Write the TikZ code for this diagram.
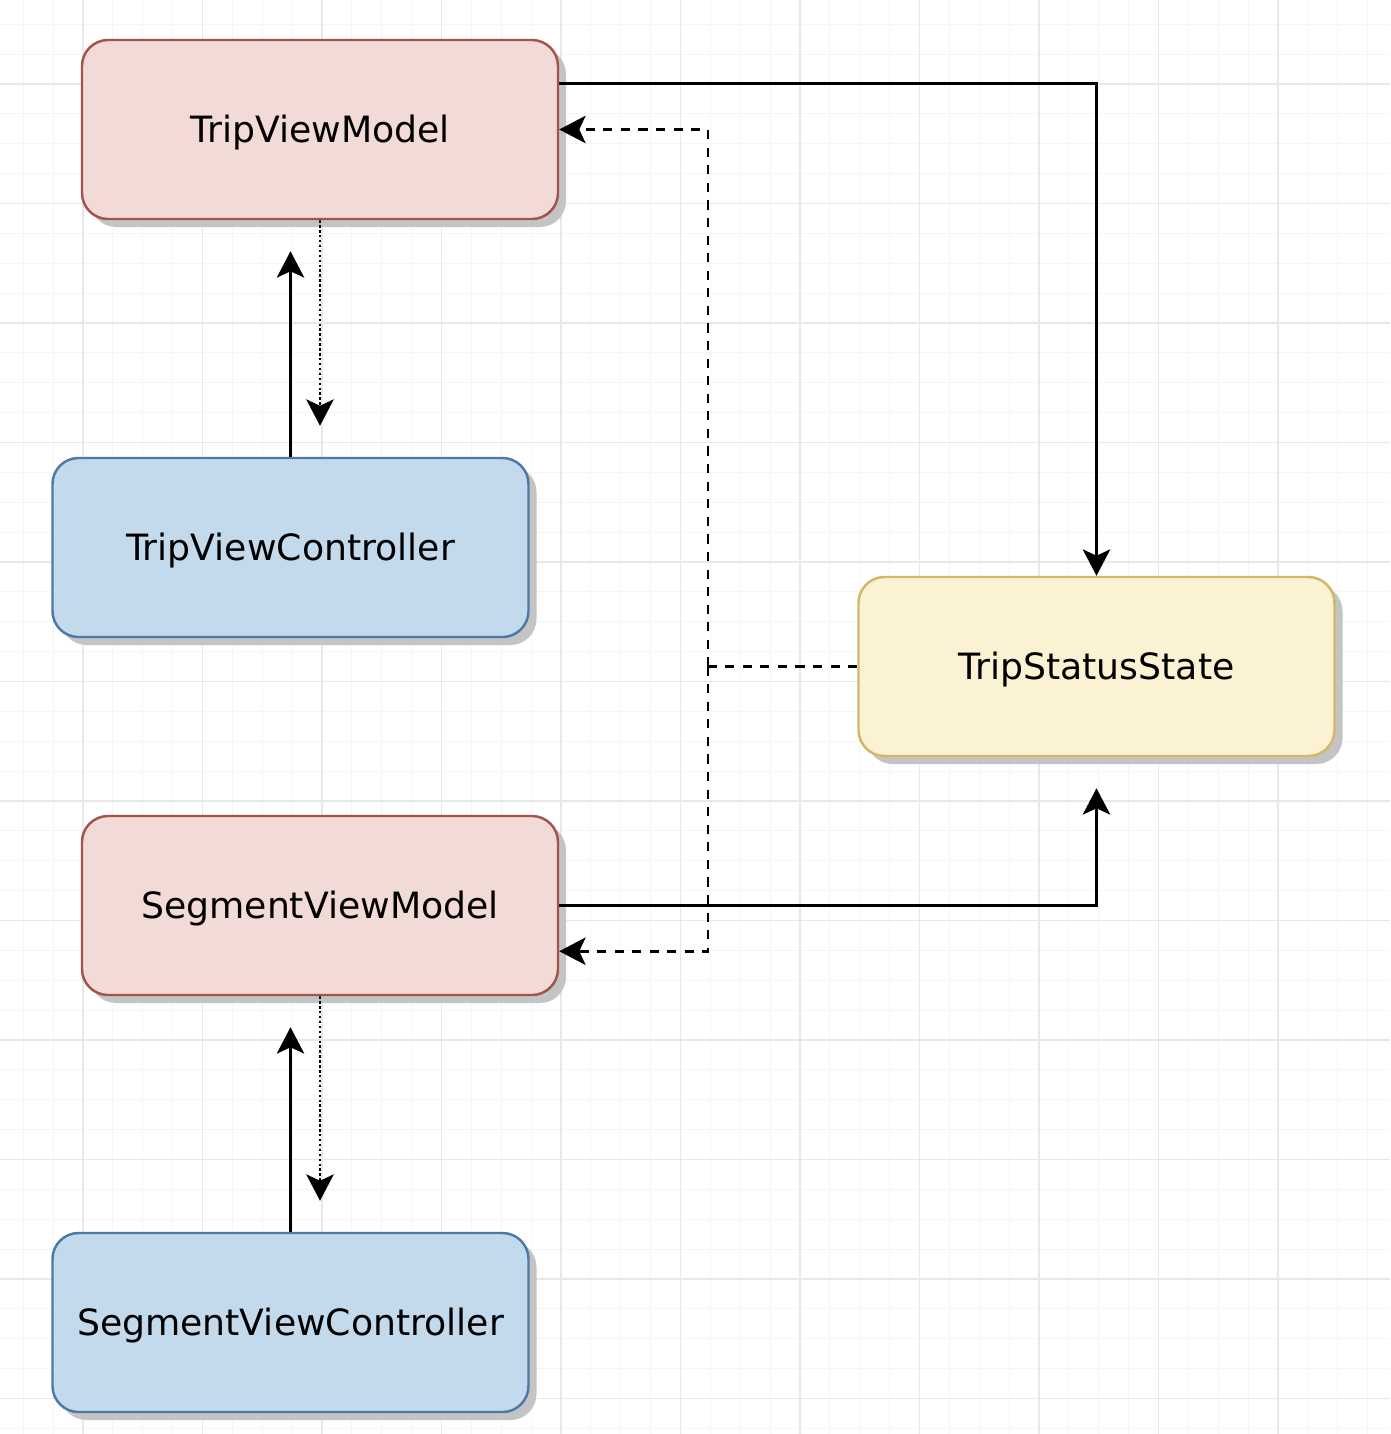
\documentclass[tikz,border=0pt]{standalone}
\usepackage{fontspec}
\setmainfont{DejaVu Sans}
\usepackage{xcolor}
\usepackage{tikz}
\usetikzlibrary{arrows.meta,shadows}

\definecolor{vmfill}{HTML}{F2DBD7}
\definecolor{vmline}{HTML}{A5534A}
\definecolor{vcfill}{HTML}{C3DAEC}
\definecolor{vcline}{HTML}{4E79A7}
\definecolor{stfill}{HTML}{FBF2D3}
\definecolor{stline}{HTML}{D3B767}
\definecolor{gridmaj}{HTML}{E8E8E8}
\definecolor{gridmin}{HTML}{F5F5F5}
\definecolor{shade}{HTML}{C4C4C4}

\begin{document}
\begin{tikzpicture}[font=\fontsize{10.3}{12}\selectfont,
  box/.style={rectangle, rounded corners=0.26cm, line width=0.7pt,
    minimum width=4.76cm, minimum height=1.79cm, inner sep=0pt,
    text height=7.5pt, text depth=0pt,
    drop shadow={shadow xshift=0.08cm, shadow yshift=-0.08cm, fill=shade, opacity=1}},
  vm/.style={box, fill=vmfill, draw=vmline},
  vc/.style={box, fill=vcfill, draw=vcline},
  st/.style={box, fill=stfill, draw=stline},
  arr/.style={-{Stealth[length=7.5pt, width=7.8pt, inset=1.8pt]}, line width=0.75pt},
  dsh/.style={line width=0.75pt, dash pattern=on 2.6pt off 2.4pt},
  dts/.style={line width=0.75pt, dash pattern=on 0.7pt off 0.7pt}]
\useasboundingbox (0,0) rectangle (13.9,-14.34);
\fill[white] (0,0) rectangle (13.9,-14.34);
% ---- background grid ----
\foreach \i in {-2,...,43}
  \draw[gridmin, line width=0.3pt] ({0.83+0.29875*\i},0) -- ++(0,-14.34);
\foreach \j in {-2,...,45}
  \draw[gridmin, line width=0.3pt] (0,{-0.84-0.29875*\j}) -- ++(13.9,0);
\foreach \k in {0,...,10}
  \draw[gridmaj, line width=0.4pt] ({0.83+1.195*\k},0) -- ++(0,-14.34);
\foreach \k in {0,...,11}
  \draw[gridmaj, line width=0.4pt] (0,{-0.84-1.195*\k}) -- ++(13.9,0);
% ---- boxes ----
\node[vm] (tvm) at (3.20,-1.295) {TripViewModel};
\node[vc] (tvc) at (2.905,-5.475) {TripViewController};
\node[st] (tss) at (10.965,-6.665) {TripStatusState};
\node[vm] (svm) at (3.20,-9.055) {SegmentViewModel};
\node[vc] (svc) at (2.905,-13.225) {SegmentViewController};
% ---- view model <-> state ----
\draw[arr] ([yshift=-0.45cm]tvm.north east) -| (tss.north);
\coordinate (jn) at (7.08,-6.665);
\coordinate (tssin) at ([yshift=-0.31cm]tss.south);
\draw[dsh] (tss.west) -- (jn);
\draw[dsh, arr] (jn) |- (tvm.east);
\draw[dsh, arr] (jn) |- ([yshift=0.45cm]svm.south east);
\draw[arr] (svm.east) -| (tssin);
% ---- controller <-> view model ----
\draw[arr] (tvc.north) -- ([yshift=-0.31cm]tvm.south -| tvc.north);
\draw[dts, arr] (tvm.south) -- ([yshift=0.31cm]tvc.north -| tvm.south);
\draw[arr] (svc.north) -- ([yshift=-0.31cm]svm.south -| svc.north);
\draw[dts, arr] (svm.south) -- ([yshift=0.31cm]svc.north -| svm.south);
\end{tikzpicture}
\end{document}
